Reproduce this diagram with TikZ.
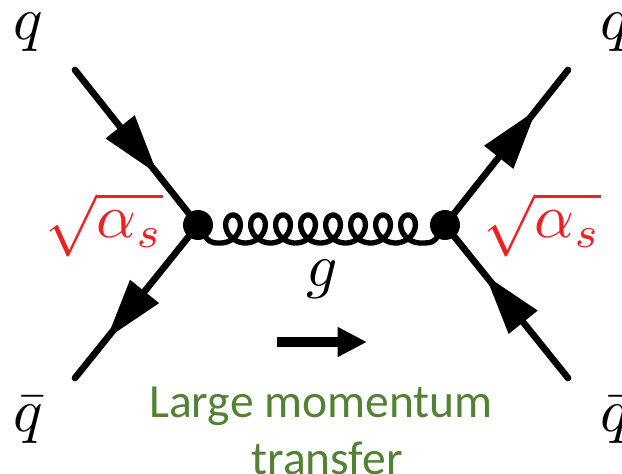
\documentclass[tikz,border=0pt]{standalone}
\usepackage{amsmath,amssymb}
\usepackage{xcolor}
\usepackage{fontspec}
\usepackage{tikz}
\usetikzlibrary{arrows.meta,decorations.markings}
\newfontfamily\labelfont{Carlito}
\definecolor{coupling}{RGB}{237,32,36}
\definecolor{transfergreen}{RGB}{84,130,53}
\tikzset{
  vertexdot/.style={circle,fill=black,inner sep=0pt,minimum size=22.5pt},
  flavour/.style={inner sep=0pt,scale=4.6},
  couplinglabel/.style={inner sep=0pt,scale=4.65,text=coupling},
  fermion/.style={line width=5pt,line cap=round,postaction={decorate},
    decoration={markings,mark=at position #1 with {\arrow[line width=0pt]{Triangle[length=45pt,width=28pt]}}}},
  gluonline/.style={line width=4pt,line join=round}
}

\begin{document}
\begin{tikzpicture}[x=0.75pt,y=-0.75pt]
  \useasboundingbox (0,0) rectangle (622,474);
  \clip (0,0) rectangle (622,474);
  \node[vertexdot] (vl) at (198,225) {};
  \node[vertexdot] (vr) at (445,225) {};
  \coordinate (qin) at (75,70);
  \coordinate (qbarin) at (75,378);
  \coordinate (qout) at (568,70);
  \coordinate (qbarout) at (568,378);
  \coordinate (pstart) at (277,342);
  \coordinate (pend) at (367,342);
  \draw[fermion=0.67] (qin)--(vl.center);
  \draw[fermion=0.74] (vl.center)--(qbarin);
  \draw[fermion=0.74] (vr.center)--(qout);
  \draw[fermion=0.67] (qbarout)--(vr.center);
  \draw[gluonline] (vl.center) .. controls (209,243) .. (220.5,243)
    -- plot[domain=-3.1416:47.124,samples=320,smooth] ({233+3.98*\x-13*sin(\x r)},{229-14*cos(\x r)})
    .. controls (434,243) .. (vr.center);
  \draw[line width=7.5pt,-{Triangle[length=22pt,width=21pt]}] (pstart)--(pend);
  \node[flavour] (ql) at (28,32) {$q$};
  \node[flavour] (qr) at (615,32) {$q$};
  \node[flavour] (qbl) at (28,420) {$\bar q$};
  \node[flavour] (qbr) at (615,420) {$\bar q$};
  \node[flavour] (glabel) at (322,279) {$g$};
  \node[couplinglabel] (al) at (104,225) {$\sqrt{\alpha_s}$};
  \node[couplinglabel] (ar) at (542,225) {$\sqrt{\alpha_s}$};
  \node[align=center,text=transfergreen,inner sep=0pt,font=\labelfont\fontsize{35.7}{43}\selectfont] (tlabel) at (321,431)
    {Large momentum\\\hspace*{9pt}transfer};
\end{tikzpicture}
\end{document}
